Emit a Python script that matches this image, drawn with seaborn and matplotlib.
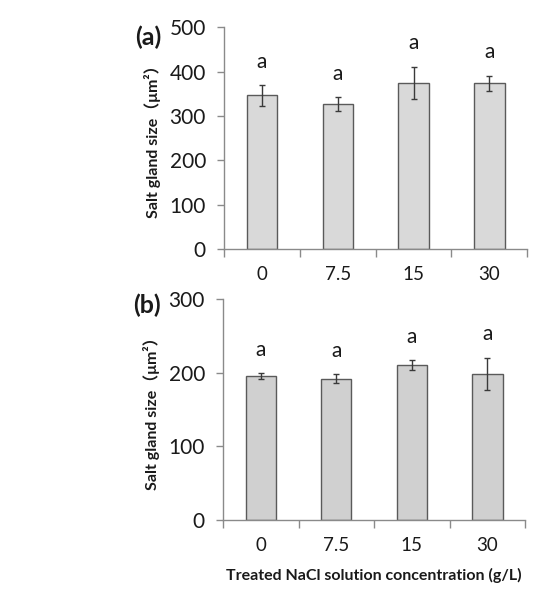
import matplotlib
matplotlib.use("Agg")
import matplotlib.pyplot as plt
import seaborn as sns
import pandas as pd
import numpy as np

concentrations = ["0", "7.5", "15", "30"]
size_a = [346, 326, 375, 373]
err_a = [23, 16, 36, 17]
size_b = [195.5, 192, 210, 198.5]
err_b = [3.5, 6, 7, 22]
letters_a = ["a", "a", "a", "a"]
letters_b = ["a", "a", "a", "a"]
yticks_a = [0, 100, 200, 300, 400, 500]
yticks_b = [0, 100, 200, 300]

sns.set_theme(style="white")
plt.rcParams['font.family'] = ['Lato', 'Noto Sans CJK SC', 'DejaVu Sans']

fig = plt.figure(figsize=(5.34, 5.90), dpi=100)
ax_a = fig.add_axes([0.4195, 0.578, 0.568, 0.376])
ax_b = fig.add_axes([0.4176, 0.1186, 0.566, 0.3746])

spine_col = "#8a8a8a"

def draw(ax, vals, errs, letters, yticks, ymax, face, panel, py):
    df = pd.DataFrame({"conc": concentrations, "size": vals})
    sns.barplot(data=df, x="conc", y="size", ax=ax, color=face,
                edgecolor="#5a5a5a", linewidth=1.0, width=0.4,
                errorbar=None, saturation=1)
    ax.errorbar(np.arange(len(vals)), vals, yerr=errs, fmt="none",
                ecolor="#3a3a3a", elinewidth=1.0, capsize=2.5, capthick=1.0)
    for i, (v, e, l) in enumerate(zip(vals, errs, letters)):
        ax.annotate(l, (i, v + e), xytext=(0, 17), textcoords="offset points",
                    ha="center", va="center", fontsize=15, color="#1a1a1a")
    ax.set_xlim(-0.5, len(vals) - 0.5)
    ax.set_ylim(0, ymax)
    ax.set_yticks(yticks)
    ax.set_yticklabels([str(t) for t in yticks], fontsize=15, color="#1a1a1a")
    ax.set_xticks(np.arange(-0.5, len(vals), 1.0))
    ax.set_xticklabels([])
    ax.set_xticks(np.arange(len(vals)), minor=True)
    ax.set_xticklabels(concentrations, minor=True, fontsize=13.5, color="#1a1a1a")
    ax.tick_params(axis="x", which="major", direction="out", length=6,
                   width=1, color=spine_col, bottom=True)
    ax.tick_params(axis="x", which="minor", length=0, pad=12)
    ax.tick_params(axis="y", direction="out", length=5, width=1,
                   color=spine_col, left=True, pad=8)
    for s in ["top", "right"]:
        ax.spines[s].set_visible(False)
    for s in ["left", "bottom"]:
        ax.spines[s].set_color(spine_col)
        ax.spines[s].set_linewidth(1.0)
    ax.set_xlabel("")
    ax.set_ylabel("Salt gland size（μm²）", fontsize=11.5, fontweight="bold",
                  labelpad=6, color="#1a1a1a")
    ax.text(-0.25, py, panel, transform=ax.transAxes, fontsize=18,
            fontweight="bold", ha="center", va="center", color="#1a1a1a")

draw(ax_a, size_a, err_a, letters_a, yticks_a, 500, "#d9d9d9", "(a)", 0.955)
draw(ax_b, size_b, err_b, letters_b, yticks_b, 300, "#d0d0d0", "(b)", 0.973)

ax_b.set_xlabel("Treated NaCl solution concentration (g/L)", fontsize=11.5,
                fontweight="bold", labelpad=10, color="#1a1a1a")

fig.savefig("out.png", dpi=100, facecolor="white")
